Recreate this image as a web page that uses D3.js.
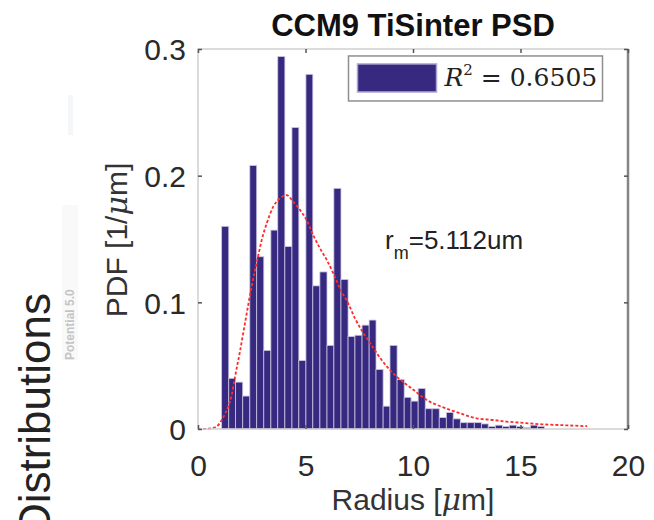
<!DOCTYPE html>
<html>
<head>
<meta charset="utf-8">
<script src="https://cdn.jsdelivr.net/npm/d3@7/dist/d3.min.js"></script>
<style>
  body { margin: 0; background: #fff; }
  text { font-family: "Liberation Sans", Arial, sans-serif; }
</style>
</head>
<body>
<div id="graph"></div>
<script>
// histogram bin edges (radius, um) and bar heights (PDF, 1/um)
var binEdges = [1.10, 1.43, 1.75, 2.08, 2.41, 2.73, 3.06, 3.39, 3.71, 4.04,
    4.37, 4.69, 5.02, 5.34, 5.67, 6.00, 6.32, 6.65, 6.98, 7.30,
    7.63, 7.96, 8.28, 8.61, 8.93, 9.26, 9.59, 9.91, 10.24, 10.57,
    10.89, 11.22, 11.55, 11.87, 12.20, 12.52, 12.85, 13.18, 13.50, 13.83,
    14.16, 14.48, 14.81, 15.14, 15.46, 15.79, 16.11];
var binPdf = [0.160, 0.040, 0.037, 0.026, 0.208, 0.136, 0.062, 0.157, 0.294, 0.144,
    0.238, 0.054, 0.280, 0.113, 0.124, 0.066, 0.190, 0.118, 0.073, 0.074,
    0.082, 0.086, 0.047, 0.018, 0.066, 0.039, 0.025, 0.022, 0.032, 0.016,
    0.016, 0.009, 0.013, 0.008, 0.005, 0.005, 0.005, 0.004, 0.002, 0.003,
    0.002, 0.003, 0.002, 0.001, 0.003, 0.002];

// fitted curve
var fitR = [0, 0.5, 0.87, 1.10, 1.26, 1.41, 1.57, 1.72, 1.95, 2.19,
    2.50, 2.78, 2.96, 3.19, 3.50, 3.81, 4.12, 4.43, 4.74, 5.05,
    5.36, 5.67, 5.99, 6.29, 6.60, 6.99, 7.30, 7.61, 7.92, 8.23,
    8.54, 8.85, 9.16, 9.55, 9.94, 10.64, 11.41, 12.19, 12.96, 13.74,
    14.36, 15.0, 16.0, 17.0, 18.1];
var fitPdf = [0, 0.0003, 0.002, 0.007, 0.012, 0.018, 0.027, 0.041, 0.061, 0.084,
    0.113, 0.135, 0.149, 0.162, 0.1755, 0.182, 0.1847, 0.1795, 0.173, 0.165,
    0.153, 0.1427, 0.1334, 0.123, 0.111, 0.099, 0.0874, 0.078, 0.070, 0.062,
    0.0545, 0.048, 0.0426, 0.037, 0.032, 0.0229, 0.0171, 0.0124, 0.0084, 0.0071,
    0.0058, 0.0050, 0.0037, 0.0030, 0.0022];

var xTicks = [0, 5, 10, 15, 20];
var yTicks = [0, 0.1, 0.2, 0.3];
var legendLabel = "0.6505";
var rmLabel = "=5.112um";

var margin = {top: 49, right: 26, bottom: 91, left: 198},
    width = 654 - margin.left - margin.right,
    height = 520 - margin.top - margin.bottom;

var root = d3.select('#graph').html('')
    .append("svg")
    .attr("width", 654)
    .attr("height", 520);

var svg = root.append("g")
    .attr("transform", "translate(" + margin.left + "," + margin.top + ")");

var x = d3.scaleLinear().domain([0, 20]).range([0, width]);
var y = d3.scaleLinear().domain([0, 0.3]).range([height, 0]);

// bars
var bins = binPdf.map(function (v, i) {
    return {x0: binEdges[i], x1: binEdges[i + 1], v: v};
});
svg.selectAll("rect.bar")
    .data(bins)
    .enter().append("rect")
    .attr("class", "bar")
    .attr("x", function (d) { return x(d.x0); })
    .attr("y", function (d) { return y(d.v); })
    .attr("width", function (d) { return x(d.x1) - x(d.x0); })
    .attr("height", function (d) { return height - y(d.v); })
    .attr("fill", "#36297f")
    .attr("stroke", "#c9c5e3")
    .attr("stroke-width", 0.8);

// fit curve
var fit = fitR.map(function (r, i) { return [r, fitPdf[i]]; });
svg.append("path")
    .datum(fit)
    .attr("d", d3.line()
        .x(function (d) { return x(d[0]); })
        .y(function (d) { return y(d[1]); })
        .curve(d3.curveMonotoneX))
    .attr("fill", "none")
    .attr("stroke", "#ff2a2a")
    .attr("stroke-width", 1.8)
    .attr("stroke-dasharray", "3,2");

// box
svg.append("rect")
    .attr("width", width).attr("height", height)
    .attr("fill", "none")
    .attr("stroke", "#cfcfcf")
    .attr("stroke-width", 1.5);
svg.append("line")
    .attr("x1", width).attr("x2", width).attr("y1", 0).attr("y2", height)
    .attr("stroke", "#858585").attr("stroke-width", 2.5);

// axes
var xAxis = svg.append("g")
    .attr("transform", "translate(0," + height + ")")
    .call(d3.axisBottom(x).tickValues(xTicks).tickSizeInner(-4).tickSizeOuter(0).tickPadding(26)
        .tickFormat(d3.format("d")));
var xTop = svg.append("g")
    .call(d3.axisTop(x).tickValues(xTicks).tickSizeInner(-4).tickSizeOuter(0).tickFormat(""));
var yAxis = svg.append("g")
    .call(d3.axisLeft(y).tickValues(yTicks).tickSizeInner(-4).tickSizeOuter(0).tickPadding(12)
        .tickFormat(function (d) { return d === 0 ? "0" : d3.format(".1f")(d); }));
var yRight = svg.append("g")
    .attr("transform", "translate(" + width + ",0)")
    .call(d3.axisRight(y).tickValues(yTicks).tickSizeInner(-4).tickSizeOuter(0).tickFormat(""));

[xAxis, xTop, yAxis, yRight].forEach(function (a) {
    a.select(".domain").remove();
    a.selectAll(".tick line").attr("stroke", "#555").attr("stroke-width", 1.5);
    a.selectAll(".tick text")
        .attr("fill", "#2a2a2a")
        .style("font-size", "30px")
        .style("font-family", "'Liberation Sans', Arial, sans-serif");
});
yAxis.selectAll(".tick text").attr("dy", "0.36em");

// legend
var legend = svg.append("g").attr("transform", "translate(" + x(7.0) + "," + y(0.2945) + ")");
legend.append("rect")
    .attr("width", 254).attr("height", 45)
    .attr("fill", "#fff")
    .attr("stroke", "#8f8f8f").attr("stroke-width", 1.5);
legend.append("rect")
    .attr("x", 9).attr("y", 8).attr("width", 79).attr("height", 28)
    .attr("fill", "#36297f")
    .attr("stroke", "#aaa4d2").attr("stroke-width", 1.5);
var lt = legend.append("text")
    .attr("x", 96).attr("y", 30)
    .style("font-family", "'DejaVu Serif', 'Liberation Serif', serif")
    .style("font-size", "25px")
    .attr("fill", "#222");
lt.append("tspan").style("font-style", "italic").text("R");
lt.append("tspan").attr("dy", -11).style("font-size", "15px").text("2");
lt.append("tspan").attr("dy", 11).text(" = " + legendLabel);

// r_m annotation
var rm = svg.append("text")
    .attr("x", x(8.7)).attr("y", y(0.1425))
    .style("font-size", "26px")
    .attr("fill", "#222");
rm.append("tspan").text("r");
rm.append("tspan").attr("dy", 10).style("font-size", "18px").text("m");
rm.append("tspan").attr("dy", -10).text(rmLabel);

// title and axis labels
root.append("text")
    .attr("x", margin.left + width / 2).attr("y", 36)
    .attr("text-anchor", "middle")
    .style("font-size", "31px").style("font-weight", "bold")
    .attr("fill", "#111")
    .text("CCM9 TiSinter PSD");

var xl = root.append("text")
    .attr("x", margin.left + width / 2).attr("y", 510)
    .attr("text-anchor", "middle")
    .style("font-size", "30px")
    .attr("fill", "#333");
xl.append("tspan").text("Radius [");
xl.append("tspan").style("font-family", "'DejaVu Serif', serif").style("font-style", "italic").text("μ");
xl.append("tspan").text("m]");

var yl = root.append("text")
    .attr("transform", "translate(127,240) rotate(-90)")
    .attr("text-anchor", "middle")
    .style("font-size", "30px")
    .attr("fill", "#333");
yl.append("tspan").text("PDF [1/");
yl.append("tspan").style("font-family", "'DejaVu Serif', serif").style("font-style", "italic").text("μ");
yl.append("tspan").text("m]");

// faint leftovers of neighbouring panel
root.append("rect")
    .attr("x", 62).attr("y", 205).attr("width", 16).attr("height", 155)
    .attr("fill", "#f9f9f9");
root.append("text")
    .attr("transform", "translate(74,360) rotate(-90)")
    .style("font-size", "12px").style("font-weight", "bold")
    .attr("fill", "#c4c4c4")
    .text("Potential 5.0");
root.append("rect")
    .attr("x", 68).attr("y", 95).attr("width", 5).attr("height", 40)
    .attr("fill", "#f5f6f8");

root.append("text")
    .attr("transform", "translate(50,293) rotate(-90)")
    .attr("text-anchor", "end")
    .style("font-size", "44px")
    .attr("fill", "#222")
    .text("Distributions");
</script>
</body>
</html>
